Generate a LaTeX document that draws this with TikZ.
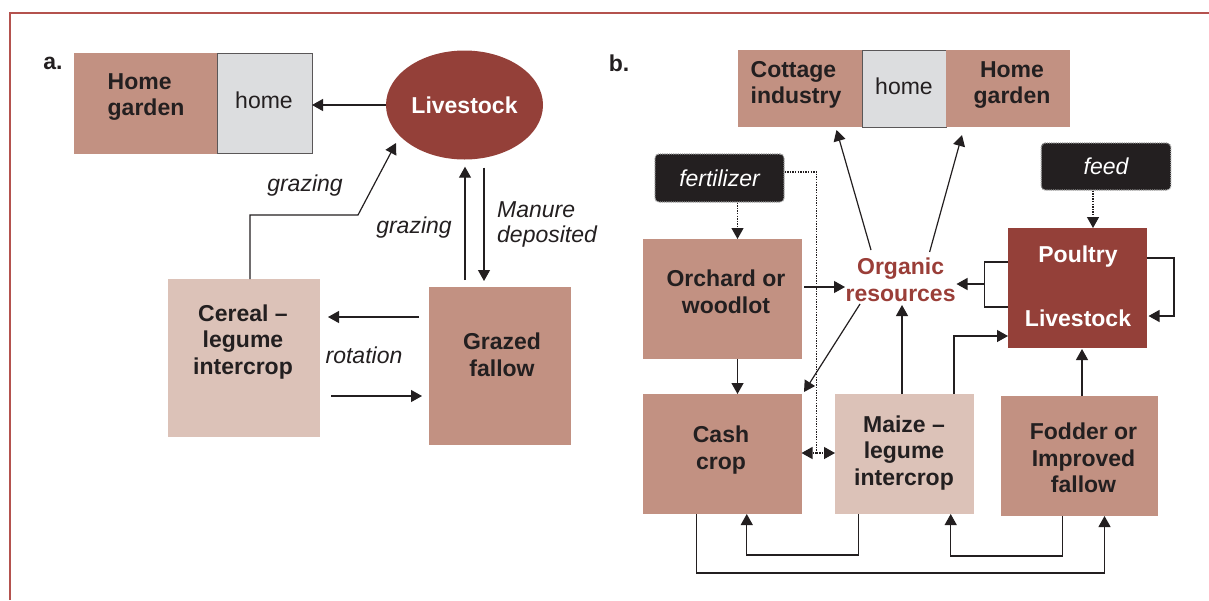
\documentclass[tikz,border=0pt]{standalone}
\usepackage{fontspec}
\setmainfont{Liberation Sans}
\usetikzlibrary{shapes.geometric,arrows.meta,calc}
\definecolor{midbrown}{RGB}{194,145,130}
\definecolor{lightbrown}{RGB}{220,194,184}
\definecolor{darkred}{RGB}{148,64,57}
\definecolor{homegray}{RGB}{220,221,223}
\definecolor{ink}{RGB}{35,31,32}
\definecolor{framered}{RGB}{180,82,78}
\definecolor{orgred}{RGB}{154,62,56}
\tikzset{
 box/.style={rectangle, draw=none, inner sep=0pt, outer sep=0pt},
 bt/.style={font=\fontsize{23}{26.5}\selectfont\bfseries, text=ink, align=center, inner sep=0pt},
 rt/.style={font=\fontsize{23}{26}\selectfont, text=ink, inner sep=0pt},
 it/.style={font=\fontsize{23}{25}\selectfont\itshape, text=ink, inner sep=0pt},
 conn/.style={draw=ink, line width=1.2pt, -{Triangle[length=11pt,width=12pt]}},
 plain/.style={draw=ink, line width=1.2pt},
 dotconn/.style={draw=ink, line width=1.2pt, dash pattern=on 1.4pt off 1.2pt},
 dottip/.style={-{Triangle[length=11pt,width=12pt]}},
 blackbox/.style={rectangle, fill=ink, draw=gray!80, line width=1.2pt, dash pattern=on 1.2pt off 1pt, rounded corners=4pt, text=white, font=\fontsize{23}{25}\selectfont\itshape, inner sep=0pt},
 framestyle/.style={draw=framered, line width=1.6pt},
}
\newcommand\bx[6]{\node[box,fill=#6,minimum width={#4-#2},minimum height={#5-#3}] (#1) at ({(#2+#4)/2},{(#3+#5)/2}) {};}
\begin{document}
\begin{tikzpicture}[x=1pt,y=-1pt]
\useasboundingbox (0,0) rectangle (1209,600);
\draw[framestyle] (10,600) -- (10,13) -- (1209,13);

% ---------- panel a ----------
\node[bt] (la) at (53,63) {a.};
\bx{hgA}{73.5}{53}{217}{154}{midbrown}
\node[box,fill=homegray,draw=ink!75,line width=1pt,minimum width=95,minimum height=100] (homeA) at (264.5,103.5) {};
\node[bt,align=left] (hgAt) at (146,97) {Home\\garden};
\node[rt] (homeAt) at (264,100) {home};
\node[ellipse, fill=darkred, minimum width=157, minimum height=109, inner sep=0pt, font=\fontsize{23}{26}\selectfont\bfseries, text=white] (livA) at (464.5,105) {Livestock};
\bx{cereal}{168}{279}{320}{437}{lightbrown}
\node[bt] (cerealt) at (243,342) {Cereal --\\legume\\intercrop};
\bx{fallow}{429}{287}{571}{445}{midbrown}
\node[bt] (fallowt) at (502,355) {Grazed\\fallow};

\draw[conn] (livA.west) -- (homeA.east |- livA.west);
\draw[conn] ($(cereal.north)+(6,0)$) -- ($(cereal.north)+(6,-64)$) -- ($(cereal.north)+(114,-64)$) -- ($(livA.center)+(-68.5,38)$);
\draw[conn] ($(fallow.north)+(-35,-7)$) -- ($(livA.south)+(0.5,7)$);
\draw[conn] ($(livA.south)+(19.5,8)$) -- ($(fallow.north)+(-16,-6)$);
\draw[conn] ($(fallow.west)+(-10,-49)$) -- ($(cereal.east)+(8,-41)$);
\draw[conn] ($(cereal.east)+(11,38)$) -- ($(fallow.west)+(-7,30)$);

\node[it] (g1) at (305,186) {grazing};
\node[it] (g2) at (414,228) {grazing};
\node[it,align=left,anchor=west] (man) at (497,224) {Manure\\deposited};
\node[it] (rot) at (364,355) {rotation};

% ---------- panel b ----------
\node[bt] (lb) at (619,63) {b.};
\bx{cot}{737.5}{50}{862}{127}{midbrown}
\node[box,fill=homegray,draw=ink!75,line width=1pt,minimum width=84,minimum height=77] (homeB) at (904,88.5) {};
\bx{hgB}{946}{50}{1069.5}{127}{midbrown}
\node[bt,align=left] (cott) at (796,85) {Cottage\\industry};
\node[rt] (homeBt) at (904,86) {home};
\node[bt] (hgBt) at (1012,85) {Home\\garden};

\node[blackbox,minimum width=129,minimum height=48] (fert) at (719.5,178) {fertilizer};
\node[blackbox,minimum width=129.5,minimum height=47] (feed) at (1106,166.5) {feed};

\bx{orch}{643}{239}{801.5}{359}{midbrown}
\node[bt] (orcht) at (726,292) {Orchard or\\woodlot};
\bx{cash}{643}{394}{801.5}{514}{midbrown}
\node[bt] (casht) at (721,450) {Cash\\crop};
\bx{maize}{835}{394}{974}{514}{lightbrown}
\node[bt] (maizet) at (904,453) {Maize --\\legume\\intercrop};
\bx{fod}{1001}{396}{1158}{516}{midbrown}
\node[bt] (fodt) at (1083.5,458) {Fodder or\\Improved\\fallow};
\bx{poul}{1008}{228}{1146.5}{348}{darkred}
\node[bt,text=white] (poult) at (1078,257) {Poultry};
\node[bt,text=white] (livBt) at (1078,318) {Livestock};
\node[bt,text=orgred] (org) at (900.6,280) {Organic\\resources};

% dotted inputs
\draw[dotconn,dottip] ($(fert.south)+(18,0)$) -- ($(orch.north)+(15.25,0)$);
\coordinate (split) at (816.7,453);
\draw[dotconn] ($(fert.east)+(0,-6)$) -| (split);
\draw[dotconn,dottip] (split) -- (cash.east |- split);
\draw[dotconn,dottip] (split) -- (maize.west |- split);
\draw[dotconn,dottip] ($(feed.south)+(-13,0)$) -- ($(poul.north)+(15.75,0)$);

% solid connectors
\draw[conn] ($(orch.east)+(2.5,-12)$) -- ($(orch.east)+(43.5,-12)$);
\draw[conn] ($(org.center)+(-40.6,24)$) -- ($(cash.north east)+(2.5,-2)$);
\draw[conn] ($(org.center)+(-29.6,-30)$) -- ($(cot.south east)+(-25.5,3)$);
\draw[conn] ($(org.center)+(29,-28)$) -- ($(hgB.south west)+(16,8)$);
\coordinate (m1) at ($(maize.north)+(-2.5,0)$);
\draw[conn] (m1) -- ($(m1)+(0,-89)$);
\coordinate (m2) at ($(maize.north)+(49.5,0)$);
\draw[conn] (m2) |- ($(poul.west)+(0,48)$);
\draw[conn] ($(fod.north)+(2.5,0)$) -- ($(poul.south)+(4.75,1)$);
\coordinate (pb) at ($(poul.west)+(-23.5,-4)$);
\draw[plain] ($(poul.west)+(0,-26)$) -| (pb) |- ($(poul.west)+(0,19)$);
\draw[conn] (pb) -- ($(pb)+(-28,0)$);
\draw[conn] ($(poul.east)+(0,-30)$) -- ($(poul.east)+(27.5,-30)$) |- ($(poul.east)+(2,28)$);
\draw[conn] ($(orch.south)+(15.25,0)$) -- ($(cash.north)+(15.25,0)$);
\draw[conn] ($(maize.south)+(-46,0)$) -- ($(maize.south)+(-46,41)$) -| ($(cash.south)+(24.5,0)$);
\draw[conn] ($(fod.south)+(-17,0)$) -- ($(fod.south)+(-17,40)$) -| ($(maize.south)+(46.2,0)$);
\draw[conn] ($(cash.south)+(-25.5,0)$) -- ($(cash.south)+(-25.5,59)$) -| ($(fod.south)+(25,0)$);
\end{tikzpicture}
\end{document}
